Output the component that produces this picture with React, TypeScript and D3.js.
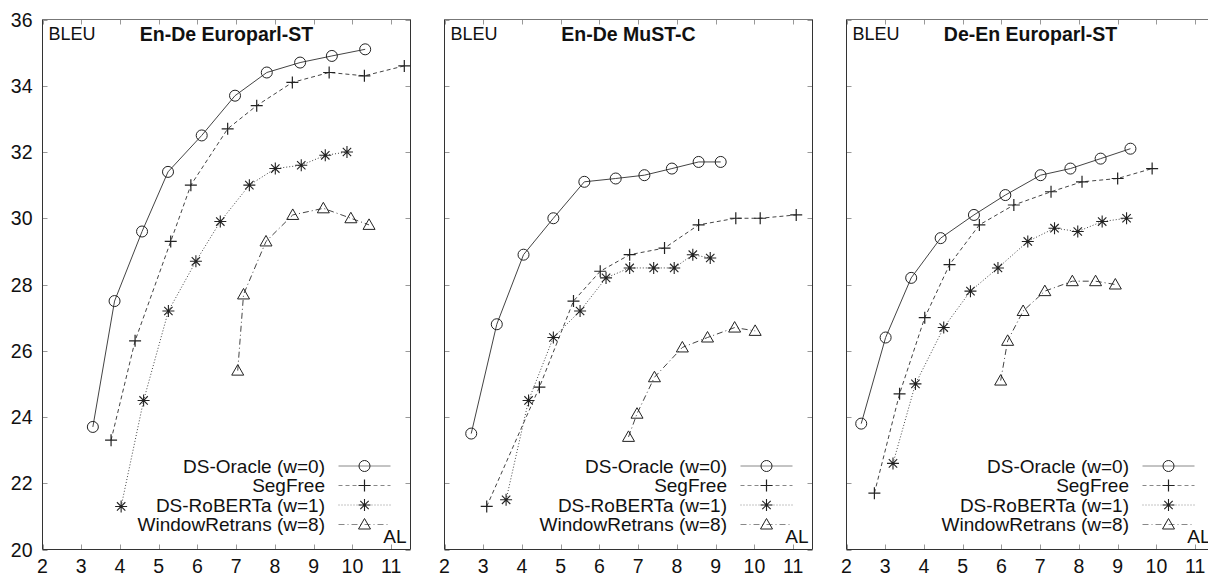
import React from "react";
import * as d3 from "d3";

// ---- data ----
const panelTitles = ["En-De Europarl-ST", "En-De MuST-C", "De-En Europarl-ST"];
const seriesNames = ["DS-Oracle (w=0)", "SegFree", "DS-RoBERTa (w=1)", "WindowRetrans (w=8)"];
const xTicks = [2, 3, 4, 5, 6, 7, 8, 9, 10, 11];
const yTicks = [20, 22, 24, 26, 28, 30, 32, 34, 36];

// Panel 1: En-De Europarl-ST
const p1OracleAL = [3.30, 3.86, 4.57, 5.24, 6.11, 6.97, 7.79, 8.65, 9.47, 10.33];
const p1OracleBLEU = [23.7, 27.5, 29.6, 31.4, 32.5, 33.7, 34.4, 34.7, 34.9, 35.1];
const p1SegFreeAL = [3.77, 4.39, 5.31, 5.83, 6.78, 7.53, 8.45, 9.40, 10.31, 11.34];
const p1SegFreeBLEU = [23.3, 26.3, 29.3, 31.0, 32.7, 33.4, 34.1, 34.4, 34.3, 34.6];
const p1RobertaAL = [4.03, 4.61, 5.25, 5.96, 6.59, 7.34, 8.01, 8.68, 9.30, 9.86];
const p1RobertaBLEU = [21.3, 24.5, 27.2, 28.7, 29.9, 31.0, 31.5, 31.6, 31.9, 32.0];
const p1WindowAL = [7.04, 7.19, 7.77, 8.46, 9.25, 9.96, 10.43];
const p1WindowBLEU = [25.4, 27.7, 29.3, 30.1, 30.3, 30.0, 29.8];

// Panel 2: En-De MuST-C
const p2OracleAL = [2.69, 3.35, 4.04, 4.81, 5.61, 6.42, 7.16, 7.87, 8.56, 9.13];
const p2OracleBLEU = [23.5, 26.8, 28.9, 30.0, 31.1, 31.2, 31.3, 31.5, 31.7, 31.7];
const p2SegFreeAL = [3.09, 4.45, 5.33, 6.02, 6.78, 7.68, 8.56, 9.52, 10.15, 11.08];
const p2SegFreeBLEU = [21.3, 24.9, 27.5, 28.4, 28.9, 29.1, 29.8, 30.0, 30.0, 30.1];
const p2RobertaAL = [3.59, 4.17, 4.81, 5.50, 6.17, 6.78, 7.40, 7.93, 8.41, 8.86];
const p2RobertaBLEU = [21.5, 24.5, 26.4, 27.2, 28.2, 28.5, 28.5, 28.5, 28.9, 28.8];
const p2WindowAL = [6.75, 6.97, 7.42, 8.14, 8.79, 9.49, 10.02];
const p2WindowBLEU = [23.4, 24.1, 25.2, 26.1, 26.4, 26.7, 26.6];

// Panel 3: De-En Europarl-ST
const p3OracleAL = [2.38, 3.01, 3.67, 4.43, 5.29, 6.10, 7.01, 7.78, 8.56, 9.33];
const p3OracleBLEU = [23.8, 26.4, 28.2, 29.4, 30.1, 30.7, 31.3, 31.5, 31.8, 32.1];
const p3SegFreeAL = [2.72, 3.37, 4.02, 4.66, 5.43, 6.32, 7.28, 8.08, 9.00, 9.89];
const p3SegFreeBLEU = [21.7, 24.7, 27.0, 28.6, 29.8, 30.4, 30.8, 31.1, 31.2, 31.5];
const p3RobertaAL = [3.20, 3.78, 4.51, 5.20, 5.91, 6.68, 7.37, 7.97, 8.60, 9.23];
const p3RobertaBLEU = [22.6, 25.0, 26.7, 27.8, 28.5, 29.3, 29.7, 29.6, 29.9, 30.0];
const p3WindowAL = [5.98, 6.16, 6.56, 7.12, 7.83, 8.43, 8.94];
const p3WindowBLEU = [25.1, 26.3, 27.2, 27.8, 28.1, 28.1, 28.0];

const panelsData = [
  [[p1OracleAL, p1OracleBLEU], [p1SegFreeAL, p1SegFreeBLEU], [p1RobertaAL, p1RobertaBLEU], [p1WindowAL, p1WindowBLEU]],
  [[p2OracleAL, p2OracleBLEU], [p2SegFreeAL, p2SegFreeBLEU], [p2RobertaAL, p2RobertaBLEU], [p2WindowAL, p2WindowBLEU]],
  [[p3OracleAL, p3OracleBLEU], [p3SegFreeAL, p3SegFreeBLEU], [p3RobertaAL, p3RobertaBLEU], [p3WindowAL, p3WindowBLEU]],
];

// ---- styles ----
const FONT = "'Liberation Sans', Arial, Helvetica, sans-serif";
const dashes = [null, "4,3", "1,2", "6,3,1,3"];
const panelLefts = [42.5, 444.5, 846.5];
const PW = 368;
const TOP = 19.5;
const BOTTOM = 549.5;

function Marker({ type, x, y }: { type: number; x: number; y: number }) {
  const s = "#222";
  if (type === 0) return <circle cx={x} cy={y} r={5.5} fill="none" stroke={s} strokeWidth={1} />;
  if (type === 1)
    return <path d={`M${x - 6},${y}H${x + 6}M${x},${y - 6}V${y + 6}`} stroke={s} strokeWidth={1.2} fill="none" />;
  if (type === 2)
    return (
      <path
        d={`M${x - 6},${y}H${x + 6}M${x},${y - 6}V${y + 6}M${x - 4.2},${y - 4.2}L${x + 4.2},${y + 4.2}M${x - 4.2},${y + 4.2}L${x + 4.2},${y - 4.2}`}
        stroke={s}
        strokeWidth={1.1}
        fill="none"
      />
    );
  return (
    <path d={`M${x},${y - 6}L${x + 6},${y + 4.5}L${x - 6},${y + 4.5}Z`} stroke={s} strokeWidth={1} fill="none" />
  );
}

function Panel({ idx }: { idx: number }) {
  const left = panelLefts[idx];
  const x = d3.scaleLinear().domain([2, 11.5]).range([left, left + PW]);
  const y = d3.scaleLinear().domain([20, 36]).range([BOTTOM, TOP]);
  const line = d3.line<[number, number]>().x((d) => x(d[0])).y((d) => y(d[1]));
  const data = panelsData[idx];
  const legendRows = [466, 485.5, 505, 524.5];
  const legTextX = left + 282.5;
  const legL = left + 296;
  const legR = left + 348;
  const legM = left + 322;
  return (
    <g>
      {/* ticks */}
      {xTicks.map((t) => (
        <g key={"x" + t}>
          <line x1={Math.round(x(t)) + 0.5} x2={Math.round(x(t)) + 0.5} y1={BOTTOM} y2={BOTTOM - 5} stroke="#999" />
          <line x1={Math.round(x(t)) + 0.5} x2={Math.round(x(t)) + 0.5} y1={TOP} y2={TOP + 5} stroke="#999" />
          <text x={x(t)} y={573} textAnchor="middle" fontFamily={FONT} fontSize={19.5} fill="#111">
            {t}
          </text>
        </g>
      ))}
      {yTicks.map((t) => (
        <g key={"y" + t}>
          <line x1={left} x2={left + 5} y1={Math.round(y(t)) + 0.5} y2={Math.round(y(t)) + 0.5} stroke="#999" />
          <line x1={left + PW} x2={left + PW - 5} y1={Math.round(y(t)) + 0.5} y2={Math.round(y(t)) + 0.5} stroke="#999" />
          {idx === 0 && (
            <text x={left - 10} y={y(t) + 7} textAnchor="end" fontFamily={FONT} fontSize={19.5} fill="#111">
              {t}
            </text>
          )}
        </g>
      ))}
      {/* frame */}
      <line x1={left} x2={left + PW} y1={TOP} y2={TOP} stroke="#777" />
      <line x1={left} x2={left} y1={TOP} y2={BOTTOM} stroke="#333" />
      <line x1={left} x2={left + PW} y1={BOTTOM} y2={BOTTOM} stroke="#333" />
      <line x1={left + PW} x2={left + PW} y1={TOP} y2={BOTTOM} stroke="#333" />
      {/* series */}
      {data.map(([xs, ys], si) => {
        const pts = xs.map((v, i) => [v, ys[i]] as [number, number]);
        return (
          <g key={si}>
            <path d={line(pts) || ""} fill="none" stroke="#444" strokeWidth={1} strokeDasharray={dashes[si] || undefined} />
            {pts.map((p, i) => (
              <Marker key={i} type={si} x={x(p[0])} y={y(p[1])} />
            ))}
          </g>
        );
      })}
      {/* legend */}
      {seriesNames.map((n, si) => (
        <g key={n}>
          <text x={legTextX} y={legendRows[si] + 6.5} textAnchor="end" fontFamily={FONT} fontSize={19} fill="#111">
            {n}
          </text>
          <line x1={legL} x2={legR} y1={legendRows[si]} y2={legendRows[si]} stroke="#888" strokeWidth={1} strokeDasharray={dashes[si] || undefined} />
          <Marker type={si} x={legM} y={legendRows[si]} />
        </g>
      ))}
      {/* labels */}
      <text x={left + 6} y={39.5} fontFamily={FONT} fontSize={18} fill="#111">
        BLEU
      </text>
      <text x={left + PW / 2} y={41} textAnchor="middle" fontFamily={FONT} fontSize={19.5} fontWeight="bold" fill="#111">
        {panelTitles[idx]}
      </text>
      <text x={left + PW - 4} y={543} textAnchor="end" fontFamily={FONT} fontSize={19} fill="#111">
        AL
      </text>
    </g>
  );
}

export default function App() {
  return (
    <svg
      width={1208}
      height={576}
      viewBox="0 0 1208 576"
      style={{ position: "absolute", left: 0, top: 0, background: "#fff" }}
    >
      <rect width={1208} height={576} fill="#fff" />
      {[0, 1, 2].map((i) => (
        <Panel key={i} idx={i} />
      ))}
    </svg>
  );
}
